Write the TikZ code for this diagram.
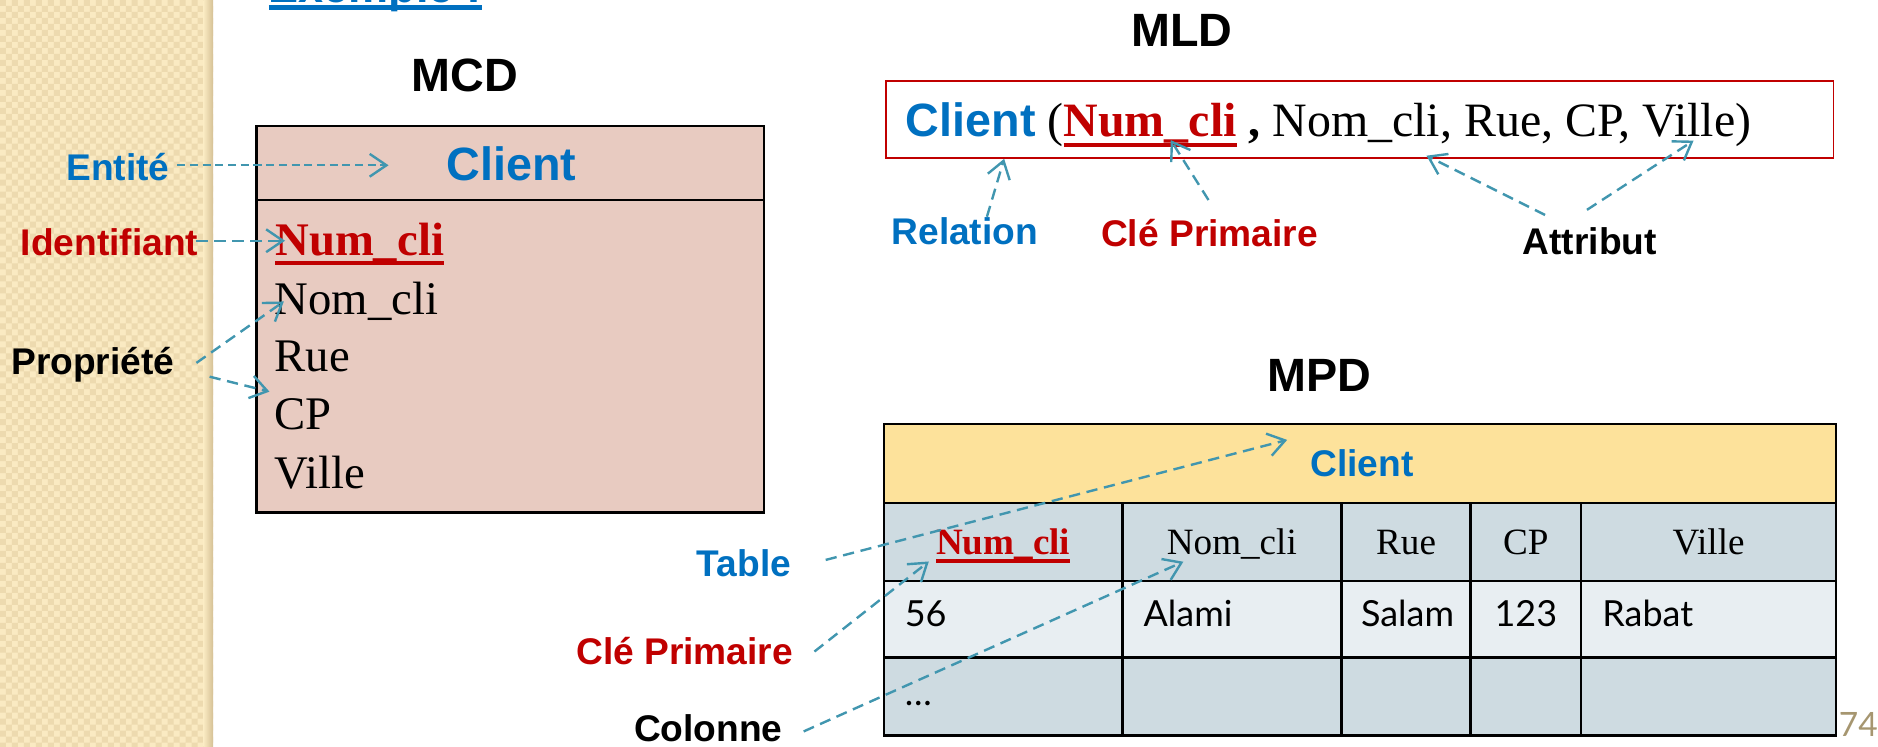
\documentclass[tikz,border=0pt]{standalone}
\usepackage{fontspec}
\setmainfont{Liberation Serif}
\newfontfamily\arialf{Liberation Sans}
\newfontfamily\gillf{Lato}
\usetikzlibrary{arrows.meta}
\definecolor{cblue}{RGB}{0,112,192}
\definecolor{cred}{RGB}{192,0,0}
\definecolor{arrc}{RGB}{65,150,175}
\definecolor{mcdfill}{RGB}{232,203,193}
\definecolor{mpdhead}{RGB}{253,226,155}
\definecolor{rowA}{RGB}{206,219,225}
\definecolor{rowB}{RGB}{232,238,242}
\definecolor{stripA}{RGB}{250,234,194}
\definecolor{stripB}{RGB}{237,218,175}
\definecolor{stripEdge}{RGB}{212,192,148}
\definecolor{tan}{RGB}{166,150,112}
\newcommand\lblfont{\arialf\bfseries\fontsize{15.5}{18}\selectfont}
\newcommand\titlefont{\arialf\bfseries\fontsize{19.5}{23}\selectfont}
\newcommand\attrfont{\rmfamily\mdseries\fontsize{19.5}{23}\selectfont}
\newcommand\mldfont{\rmfamily\mdseries\fontsize{20}{23}\selectfont}
\newcommand\colfont{\rmfamily\mdseries\fontsize{15.5}{18}\selectfont}
\newcommand\datafont{\gillf\fontsize{15}{18}\selectfont}
\newsavebox\ulbox
\newcommand\myul[1]{\sbox\ulbox{#1}\rlap{\rule[-0.22em]{\wd\ulbox}{0.09em}}\usebox\ulbox}
\newcommand\exul[1]{\sbox\ulbox{#1}\rlap{\rule[-2.8pt]{\wd\ulbox}{2pt}}\usebox\ulbox}
\tikzset{
  txt/.style={inner sep=0pt, anchor=base west},
  lbl/.style={txt, font=\lblfont},
  ttl/.style={txt, font=\titlefont},
  att/.style={txt, font=\attrfont},
  colhd/.style={inner sep=0pt, anchor=base, font=\colfont},
  dat/.style={txt, font=\datafont},
  tbl/.style={draw=black, line width=1.1pt},
  arr/.style={draw=arrc, line width=1pt, dash pattern=on 4.7pt off 2.8pt, -{Straight Barb[length=7pt,width=9.5pt]}},
  arrfine/.style={arr, dash pattern=on 3.4pt off 1.9pt},
}
\begin{document}
\begin{tikzpicture}[x=0.5pt,y=-0.5pt]
\useasboundingbox (0,0) rectangle (1568,623.7);
% left decorative strip
\begin{scope}
\clip (0,0) rectangle (178,623.7);
\fill[stripA] (0,0) rectangle (178,623.7);
\fill[stripB] \foreach \i in {0,10,...,170} {\foreach \j in {0,10,...,620} {(\i,\j) rectangle ++(5,5) ({\i+5},{\j+5}) rectangle ++(5,5)}};
\shade[left color=stripA, right color=stripEdge] (170,0) rectangle (178,623.7);
\end{scope}
% cut-off heading (the slide title lies above the visible area)
\begin{scope}
\clip (0,0) rectangle (1568,623.7);
\node[txt, font=\arialf\bfseries\fontsize{18.8}{22}\selectfont, text=cblue] (exemple) at (224,2.5) {\exul{Exemple :}};
\end{scope}

% ---------- MCD ----------
\node[ttl] (mcdtitle) at (343.5,76.5) {MCD};
\node[draw=black, line width=1pt, fill=mcdfill, minimum width=212pt, minimum height=161.5pt, inner sep=0pt, anchor=north west] (mcd) at (213,104) {};
\draw[line width=1pt] ([yshift=-31.5pt]mcd.north west) -- ([yshift=-31.5pt]mcd.north east);
\node[ttl, anchor=base, text=cblue] (mcdclient) at (427,150.5) {Client};
\node[att, text=cred, font=\attrfont\bfseries] (mcdnum) at (229.5,213) {\myul{Num\_cli}};
\node[att] (mcdnom) at (229,262.7) {Nom\_cli};
\node[att] (mcdrue) at (229,310) {Rue};
\node[att] (mcdcp) at (229,359) {CP};
\node[att] (mcdville) at (229,407.5) {Ville};

\node[lbl, text=cblue] (lentite) at (55,151) {Entité};
\node[lbl, text=cred] (lident) at (17,213) {Identifiant};
\node[lbl] (lprop) at (9,313) {Propriété};

\draw[arrfine] ([shift={(93,-13)}]lentite.base west) -- ([shift={(-48,-12.5)}]mcdclient.base west);
\draw[arr] ([shift={(147,-12)}]lident.base west) -- ([shift={(8.5,-12)}]mcdnum.base west);
\draw[arr] ([shift={(155,-10)}]lprop.base west) -- ([shift={(8,-11)}]mcdnom.base west);
\draw[arr] ([shift={(166,1.5)}]lprop.base west) -- ([shift={(-4,17)}]mcdrue.base west);

% ---------- MLD ----------
\node[ttl] (mldtitle) at (944,39) {MLD};
\node[draw=cred, line width=0.8pt, minimum width=395.5pt, minimum height=32.15pt, inner sep=0pt, anchor=north west] (mldbox) at (739,66.7) {};
\node[txt] (mldtxt) at (756,114) {{\titlefont\color{cblue}Client}\mldfont\ (\textcolor{cred}{\bfseries\myul{Num\_cli}} \textbf{,} Nom\_cli, Rue, CP, Ville)};

\node[lbl, text=cblue] (lrel) at (744,204.5) {Relation};
\node[lbl, text=cred] (lcle1) at (919,206) {Clé Primaire};
\node[lbl] (lattr) at (1271,212.5) {Attribut};

\draw[arr] ([shift={(80,-23.5)}]lrel.base west) -- ([shift={(99.4,0)}]mldbox.south west);
\draw[arr] ([shift={(90,-39)}]lcle1.base west) -- ([shift={(221.5,3)}]mldtxt.base west);
\draw[arr] ([shift={(19,-33)}]lattr.base west) -- ([shift={(435,16)}]mldtxt.base west);
\draw[arr] ([shift={(54,-37.3)}]lattr.base west) -- ([shift={(658,3.4)}]mldtxt.base west);

% ---------- MPD ----------
\node[ttl] (mpdtitle) at (1058,327) {MPD};
\fill[mpdhead] (738,354) rectangle (1533,420);
\fill[rowA] (738,420) rectangle (1533,485);
\fill[rowB] (738,485) rectangle (1533,549);
\fill[rowA] (738,549) rectangle (1533,614);
\draw[tbl] (738,354) rectangle (1533,614);
\draw[tbl] (738,420) -- (1533,420) (738,485) -- (1533,485) (738,549) -- (1533,549);
\foreach \x in {937,1120,1228,1320} \draw[tbl] (\x,420) -- (\x,614);

\node[lbl, anchor=base, text=cblue] (mpdclient) at (1137,398) {Client};
\node[colhd, text=cred, font=\colfont\bfseries] (mpdnum) at (837.5,463) {\myul{Num\_cli}};
\node[colhd] (mpdnom) at (1028.5,463) {Nom\_cli};
\node[colhd] (mpdrue) at (1174,463) {Rue};
\node[colhd] (mpdcp) at (1274,463) {CP};
\node[colhd] (mpdville) at (1426.5,463) {Ville};

\node[dat] (d1) at (755,523) {56};
\node[dat] (d2) at (954.5,523) {Alami};
\node[dat] (d3) at (1136,523) {Salam};
\node[dat] (d4) at (1247.5,523) {123};
\node[dat] (d5) at (1337.5,523) {Rabat};
\node[dat] (d6) at (755,589) {…};

\node[txt, font=\gillf\fontsize{14}{16}\selectfont, text=tan] (pnum) at (1535,615) {74};

\node[lbl, text=cblue] (ltable) at (581.4,481) {Table};
\node[lbl, text=cred] (lcle2) at (480.7,555) {Clé Primaire};
\node[lbl] (lcol) at (529,619) {Colonne};

\draw[arr] ([shift={(108,-13.5)}]ltable.base west) -- ([shift={(-62.3,-30.7)}]mpdclient.base);
\draw[arr] ([shift={(199.3,-11)}]lcle2.base west) -- ([shift={(-62,5.8)}]mpdnum.base);
\draw[arr] ([shift={(142,-8.3)}]lcol.base west) -- ([shift={(-40.5,6)}]mpdnom.base);
\end{tikzpicture}
\end{document}
